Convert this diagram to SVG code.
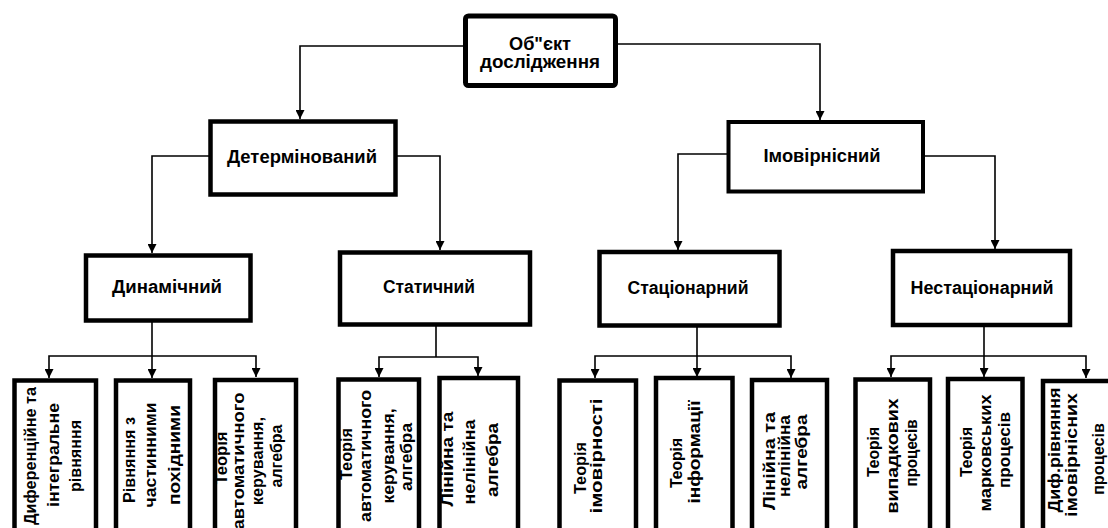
<svg xmlns="http://www.w3.org/2000/svg" width="1108" height="528" viewBox="0 0 1108 528">
<style>
.box{fill:#fff;stroke:#000;stroke-width:4.5}
.t{font-family:"Liberation Sans",Arial,sans-serif;font-weight:bold;font-size:18px;fill:#000;text-anchor:middle}
.v{font-family:"Liberation Sans",Arial,sans-serif;font-weight:bold;font-size:16px;fill:#000;text-anchor:middle}
.c{fill:none;stroke:#000;stroke-width:1.6;marker-end:url(#ah)}
.l{fill:none;stroke:#000;stroke-width:1.6}
</style>
<defs>
<marker id="ah" markerUnits="userSpaceOnUse" markerWidth="9" markerHeight="9" refX="9" refY="4.5" orient="auto">
<path d="M0,0 L9,4.5 L0,9 z" fill="#000"/>
</marker>
</defs>
<rect width="1108" height="528" fill="#fff"/>
<g id="connectors">
<path class="c" d="M465,46 H300 V119"/>
<path class="c" d="M617,44 H820 V120"/>
<path class="c" d="M210,156 H152 V253"/>
<path class="c" d="M396,156 H440 V250"/>
<path class="c" d="M728,154 H678 V250"/>
<path class="c" d="M923,156 H995 V249"/>
<path class="c" d="M152,322 V378"/>
<path class="c" d="M152,356 H49 V378"/>
<path class="c" d="M152,356 H256 V377"/>
<path class="l" d="M436,326 V357"/>
<path class="c" d="M436,357 H379 V377"/>
<path class="c" d="M436,357 H478 V376"/>
<path class="c" d="M697,327 V377"/>
<path class="c" d="M697,356 H595 V378"/>
<path class="c" d="M697,356 H791 V378"/>
<path class="c" d="M984,326 V377"/>
<path class="c" d="M984,356 H891 V377"/>
<path class="c" d="M984,356 H1086 V378"/>
</g>
<g id="n-root">
<rect class="box" x="465.5" y="16" width="150" height="69.5" rx="3" style="stroke-width:5"/>
<text class="t" x="540" y="50" textLength="62" lengthAdjust="spacingAndGlyphs">Об"єкт</text>
<text class="t" x="540" y="68" textLength="120" lengthAdjust="spacingAndGlyphs">дослідження</text>
</g>
<g id="n-det">
<rect class="box" x="210.5" y="121.5" width="185" height="73"/>
<text class="t" x="302" y="163" textLength="150" lengthAdjust="spacingAndGlyphs">Детермінований</text>
</g>
<g id="n-imov">
<rect class="box" x="728.5" y="122" width="194.5" height="69.5" style="stroke-width:4"/>
<text class="t" x="822" y="162" textLength="117" lengthAdjust="spacingAndGlyphs">Імовірнісний</text>
</g>
<g id="n-dyn">
<rect class="box" x="86" y="255.5" width="164.5" height="65"/>
<text class="t" x="167" y="293" textLength="110" lengthAdjust="spacingAndGlyphs">Динамічний</text>
</g>
<g id="n-stat">
<rect class="box" x="340" y="252.5" width="190" height="72"/>
<text class="t" x="429" y="293" textLength="92" lengthAdjust="spacingAndGlyphs">Статичний</text>
</g>
<g id="n-stac">
<rect class="box" x="599.5" y="252" width="180" height="73.5"/>
<text class="t" x="688" y="294" textLength="121" lengthAdjust="spacingAndGlyphs">Стаціонарний</text>
</g>
<g id="n-nestac">
<rect class="box" x="893" y="251" width="177" height="74"/>
<text class="t" x="982" y="294" textLength="143" lengthAdjust="spacingAndGlyphs">Нестаціонарний</text>
</g>
<g id="b1">
<rect class="box" x="14.5" y="380.5" width="81.5" height="160"/>
<text class="v" transform="translate(36,456) rotate(-90)" textLength="138" lengthAdjust="spacingAndGlyphs">Диференційне та</text>
<text class="v" transform="translate(59,455) rotate(-90)" textLength="104" lengthAdjust="spacingAndGlyphs">інтегральне</text>
<text class="v" transform="translate(81,456) rotate(-90)" textLength="72" lengthAdjust="spacingAndGlyphs">рівняння</text>
</g>
<g id="b2">
<rect class="box" x="116" y="380.5" width="74" height="160"/>
<text class="v" transform="translate(135,460) rotate(-90)" textLength="86" lengthAdjust="spacingAndGlyphs">Рівняння з</text>
<text class="v" transform="translate(156,455) rotate(-90)" textLength="105" lengthAdjust="spacingAndGlyphs">частинними</text>
<text class="v" transform="translate(180,455) rotate(-90)" textLength="100" lengthAdjust="spacingAndGlyphs">похідними</text>
</g>
<g id="b3">
<rect class="box" x="215" y="380" width="81" height="160"/>
<text class="v" transform="translate(227,458) rotate(-90)" textLength="53" lengthAdjust="spacingAndGlyphs">Теорія</text>
<text class="v" transform="translate(244,461) rotate(-90)" textLength="137" lengthAdjust="spacingAndGlyphs">автоматичного</text>
<text class="v" transform="translate(263,461) rotate(-90)" textLength="88" lengthAdjust="spacingAndGlyphs">керування,</text>
<text class="v" transform="translate(282,456) rotate(-90)" textLength="63" lengthAdjust="spacingAndGlyphs">алгебра</text>
</g>
<g id="b4">
<rect class="box" x="338.5" y="379.5" width="80.5" height="160"/>
<text class="v" transform="translate(352,454) rotate(-90)" textLength="52" lengthAdjust="spacingAndGlyphs">Теорія</text>
<text class="v" transform="translate(371,456) rotate(-90)" textLength="132" lengthAdjust="spacingAndGlyphs">автоматичного</text>
<text class="v" transform="translate(394,456) rotate(-90)" textLength="95" lengthAdjust="spacingAndGlyphs">керування,</text>
<text class="v" transform="translate(412,457) rotate(-90)" textLength="68" lengthAdjust="spacingAndGlyphs">алгебра</text>
</g>
<g id="b5">
<rect class="box" x="439.5" y="378" width="78.5" height="162"/>
<text class="v" transform="translate(453,459) rotate(-90)" textLength="95" lengthAdjust="spacingAndGlyphs">Лінійна та</text>
<text class="v" transform="translate(475,462) rotate(-90)" textLength="85" lengthAdjust="spacingAndGlyphs">нелінійна</text>
<text class="v" transform="translate(498,460) rotate(-90)" textLength="74" lengthAdjust="spacingAndGlyphs">алгебра</text>
</g>
<g id="b6">
<rect class="box" x="559.5" y="380.5" width="76.5" height="160"/>
<text class="v" transform="translate(586,468) rotate(-90)" textLength="52" lengthAdjust="spacingAndGlyphs">Теорія</text>
<text class="v" transform="translate(602,456) rotate(-90)" textLength="115" lengthAdjust="spacingAndGlyphs">імовірності</text>
</g>
<g id="b7">
<rect class="box" x="656" y="378" width="76.5" height="162"/>
<text class="v" transform="translate(682,463) rotate(-90)" textLength="50" lengthAdjust="spacingAndGlyphs">Теорія</text>
<text class="v" transform="translate(700,452) rotate(-90)" textLength="103" lengthAdjust="spacingAndGlyphs">інформації</text>
</g>
<g id="b8">
<rect class="box" x="752" y="380" width="75" height="160"/>
<text class="v" transform="translate(775,461) rotate(-90)" textLength="98" lengthAdjust="spacingAndGlyphs">Лінійна та</text>
<text class="v" transform="translate(790,456) rotate(-90)" textLength="82" lengthAdjust="spacingAndGlyphs">нелінійна</text>
<text class="v" transform="translate(807,452) rotate(-90)" textLength="75" lengthAdjust="spacingAndGlyphs">алгебра</text>
</g>
<g id="b9">
<rect class="box" x="855.5" y="379.5" width="74.5" height="160"/>
<text class="v" transform="translate(879,452) rotate(-90)" textLength="50" lengthAdjust="spacingAndGlyphs">Теорія</text>
<text class="v" transform="translate(898,456) rotate(-90)" textLength="115" lengthAdjust="spacingAndGlyphs">випадкових</text>
<text class="v" transform="translate(917,453) rotate(-90)" textLength="67" lengthAdjust="spacingAndGlyphs">процесів</text>
</g>
<g id="b10">
<rect class="box" x="948" y="379" width="74.5" height="160"/>
<text class="v" transform="translate(972,452) rotate(-90)" textLength="50" lengthAdjust="spacingAndGlyphs">Теорія</text>
<text class="v" transform="translate(991,453) rotate(-90)" textLength="117" lengthAdjust="spacingAndGlyphs">марковських</text>
<text class="v" transform="translate(1010,450) rotate(-90)" textLength="76" lengthAdjust="spacingAndGlyphs">процесів</text>
</g>
<g id="b11">
<rect class="box" x="1043" y="381" width="80" height="160"/>
<text class="v" transform="translate(1060,450) rotate(-90)" textLength="125" lengthAdjust="spacingAndGlyphs">Диф.рівняння</text>
<text class="v" transform="translate(1077,455) rotate(-90)" textLength="124" lengthAdjust="spacingAndGlyphs">імовірнісних</text>
<text class="v" transform="translate(1104,459) rotate(-90)" textLength="72" lengthAdjust="spacingAndGlyphs">процесів</text>
</g>
</svg>
